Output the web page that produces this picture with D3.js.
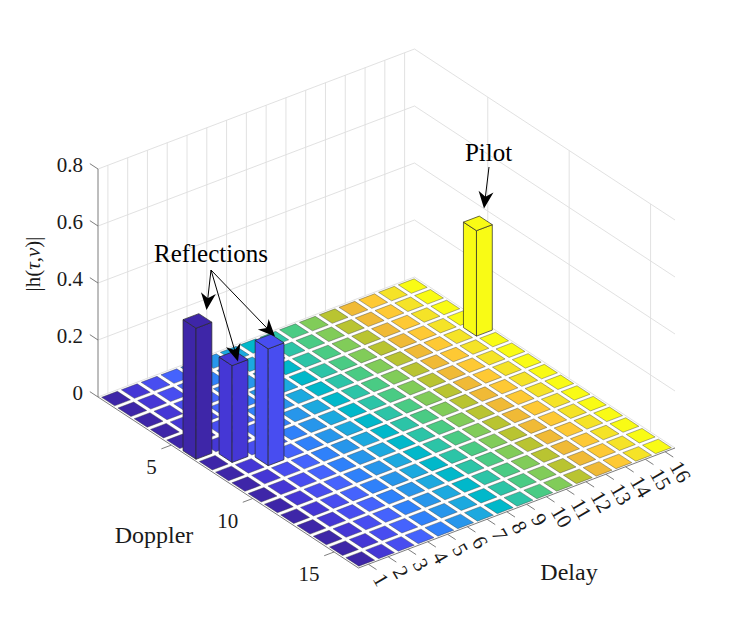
<!DOCTYPE html>
<html>
<head>
<meta charset="utf-8">
<script src="https://cdn.jsdelivr.net/npm/d3@7"></script>
<style>
body { margin: 0; background: #fff; }
svg { display: block; }
text { font-family: "Liberation Serif", "Times New Roman", serif; fill: #1a1a1a; }
</style>
</head>
<body>
<script>
// delay / doppler bins of the grid
var delays   = [1, 2, 3, 4, 5, 6, 7, 8, 9, 10, 11, 12, 13, 14, 15, 16];
var dopplers = [1, 2, 3, 4, 5, 6, 7, 8, 9, 10, 11, 12, 13, 14, 15, 16];
var delayTicks   = [1, 2, 3, 4, 5, 6, 7, 8, 9, 10, 11, 12, 13, 14, 15, 16];
var dopplerTicks = [5, 10, 15];
var zTicks       = [0, 0.2, 0.4, 0.6, 0.8];
var zTickLabels  = ["0", "0.2", "0.4", "0.6", "0.8"];

// non-zero taps of |h(tau,nu)|, every other cell is 0
var tapDelay   = [1, 2, 3, 16];
var tapDoppler = [6, 7, 8, 5];
var tapMag     = [0.46, 0.34, 0.41, 0.37];

// parula, one colour per delay column (like bar3)
var parula16 = ["#3e26a8", "#4537d5", "#484df0", "#4563fd", "#2f81fa", "#2796eb",
                "#1ca9df", "#01b8ca", "#2cc4a7", "#4acb84", "#81cc59", "#b9c431",
                "#f0ba36", "#fec934", "#f5e327", "#f9fb15"];

var W = 747, H = 641;

var svg = d3.select("body").append("svg")
    .attr("width", W)
    .attr("height", H);

// orthographic view: floor corner at (delay 0.5, doppler 0.5), two floor edge vectors, z up
var origin = [98, 397];
var exVec = [316.5, -120];
var eyVec = [260.5, 171];

var x = d3.scaleLinear().domain([0.5, 16.5]).range([0, 1]);
var y = d3.scaleLinear().domain([0.5, 16.5]).range([0, 1]);
var z = d3.scaleLinear().domain([0, 0.8]).range([0, 228]);

function P(d, p, h) {
    var a = x(d), b = y(p);
    return [origin[0] + a * exVec[0] + b * eyVec[0],
            origin[1] + a * exVec[1] + b * eyVec[1] - z(h)];
}

var line = d3.line();
function poly(pts) { return line(pts) + "Z"; }

// ---- back walls grid
var grid = svg.append("g")
    .attr("stroke", "#dedede")
    .attr("stroke-width", 0.9)
    .attr("fill", "none");

zTicks.forEach(function(t) {
    grid.append("path").attr("d", line([P(0.5, 0.5, t), P(16.5, 0.5, t), P(16.5, 16.5, t)]));
});
delayTicks.forEach(function(t) {
    grid.append("path").attr("d", line([P(t, 0.5, 0), P(t, 0.5, 0.8)]));
});
dopplerTicks.forEach(function(t) {
    grid.append("path").attr("d", line([P(16.5, t, 0), P(16.5, t, 0.8)]));
});

// ---- axes lines + ticks
var axes = svg.append("g")
    .attr("stroke", "#6e6e6e")
    .attr("stroke-width", 0.9)
    .attr("fill", "none");

axes.append("path").attr("d", line([P(0.5, 0.5, 0), P(0.5, 0.5, 0.8)]));
axes.append("path").attr("d", line([P(0.5, 0.5, 0), P(0.5, 16.5, 0), P(16.5, 16.5, 0)]));

zTicks.forEach(function(t) {
    axes.append("path").attr("d", line([P(0.5, 0.5, t), P(0.5, 0.0, t)]));
});
delayTicks.forEach(function(t) {
    axes.append("path").attr("d", line([P(t, 16.5, 0), P(t, 17.0, 0)]));
});
dopplerTicks.forEach(function(t) {
    axes.append("path").attr("d", line([P(0.5, t, 0), P(0.0, t, 0)]));
});

// ---- cells
var cells = [];
delays.forEach(function(d) {
    dopplers.forEach(function(p) {
        var v = 0;
        for (var k = 0; k < tapDelay.length; k++) {
            if (tapDelay[k] == d && tapDoppler[k] == p) v = tapMag[k];
        }
        cells.push({ d: d, p: p, v: v });
    });
});

var w = 0.4;

// flat tiles (zero height)
svg.append("g").selectAll("path")
    .data(cells.filter(function(c) { return c.v == 0; }))
    .enter()
    .append("path")
    .attr("d", function(c) {
        return poly([P(c.d - w, c.p - w, 0), P(c.d + w, c.p - w, 0),
                     P(c.d + w, c.p + w, 0), P(c.d - w, c.p + w, 0)]);
    })
    .attr("fill", function(c) { return parula16[c.d - 1]; })
    .attr("stroke", "#3a3a3a")
    .attr("stroke-width", 0.5)
    .attr("stroke-opacity", 0.8);

// bars, far ones first
var bars = cells.filter(function(c) { return c.v > 0; })
    .sort(function(a, b) { return P(a.d, a.p, 0)[1] - P(b.d, b.p, 0)[1]; });

bars.forEach(function(c) {
    var g = svg.append("g")
        .attr("fill", parula16[c.d - 1])
        .attr("stroke", "#262626")
        .attr("stroke-width", 0.7)
        .attr("stroke-linejoin", "round");
    // left side
    g.append("path").attr("d", poly([P(c.d - w, c.p - w, 0), P(c.d - w, c.p + w, 0),
                                     P(c.d - w, c.p + w, c.v), P(c.d - w, c.p - w, c.v)]));
    // front side
    g.append("path").attr("d", poly([P(c.d - w, c.p + w, 0), P(c.d + w, c.p + w, 0),
                                     P(c.d + w, c.p + w, c.v), P(c.d - w, c.p + w, c.v)]));
    // top
    g.append("path").attr("d", poly([P(c.d - w, c.p - w, c.v), P(c.d + w, c.p - w, c.v),
                                     P(c.d + w, c.p + w, c.v), P(c.d - w, c.p + w, c.v)]));
});

// ---- tick labels
svg.append("g").selectAll("text")
    .data(zTicks)
    .enter()
    .append("text")
    .attr("x", function(t) { return P(0.5, 0.5, t)[0] - 15; })
    .attr("y", function(t) { return P(0.5, 0.5, t)[1] - 4; })
    .attr("text-anchor", "end")
    .attr("dominant-baseline", "central")
    .attr("font-size", 21)
    .text(function(t, i) { return zTickLabels[i]; });

svg.append("g").selectAll("text")
    .data(dopplerTicks)
    .enter()
    .append("text")
    .attr("x", function(t) { return P(0.5, t, 0)[0] - 14.5; })
    .attr("y", function(t) { return P(0.5, t, 0)[1] + 22; })
    .attr("text-anchor", "end")
    .attr("dominant-baseline", "central")
    .attr("font-size", 21)
    .text(function(t) { return t; });

svg.append("g").selectAll("text")
    .data(delayTicks)
    .enter()
    .append("text")
    .attr("transform", function(t) {
        var q = P(t, 16.5, 0);
        return "translate(" + (q[0] + 10) + "," + (q[1] + 11) + ") rotate(60)";
    })
    .attr("dominant-baseline", "central")
    .attr("font-size", 21)
    .text(function(t) { return t; });

// ---- axis labels
svg.append("text")
    .attr("x", 154).attr("y", 543)
    .attr("text-anchor", "middle")
    .attr("font-size", 24)
    .text("Doppler");

svg.append("text")
    .attr("x", 569).attr("y", 580)
    .attr("text-anchor", "middle")
    .attr("font-size", 24)
    .text("Delay");

var zl = svg.append("text")
    .attr("transform", "translate(40,264) rotate(-90)")
    .attr("text-anchor", "middle")
    .attr("font-size", 21);
zl.append("tspan").text("|h(");
zl.append("tspan").attr("font-style", "italic").text("τ");
zl.append("tspan").text(",");
zl.append("tspan").attr("font-style", "italic").text("ν");
zl.append("tspan").text(")|");

// ---- annotations (figure positions)
var notes = [
    { label: "Reflections", at: [211, 262],
      arrows: [[211, 270, 206.5, 310], [211, 270, 238, 361.5], [211, 270, 275, 336.5]] },
    { label: "Pilot", at: [488.5, 161],
      arrows: [[489, 167, 484, 208.5]] }
];

function arrowHead(x1, y1, x2, y2) {
    var ang = Math.atan2(y2 - y1, x2 - x1);
    var hl = 17, hw = 7.5;
    var pts = [[0, 0], [-hl, -hw], [-hl * 0.7, 0], [-hl, hw]].map(function(q) {
        return [x2 + q[0] * Math.cos(ang) - q[1] * Math.sin(ang),
                y2 + q[0] * Math.sin(ang) + q[1] * Math.cos(ang)];
    });
    return poly(pts);
}

notes.forEach(function(n) {
    svg.append("text")
        .attr("x", n.at[0]).attr("y", n.at[1])
        .attr("text-anchor", "middle")
        .attr("font-size", 25)
        .style("fill", "#000")
        .text(n.label);
    n.arrows.forEach(function(a) {
        var ang = Math.atan2(a[3] - a[1], a[2] - a[0]);
        svg.append("line")
            .attr("x1", a[0]).attr("y1", a[1])
            .attr("x2", a[2] - 10 * Math.cos(ang)).attr("y2", a[3] - 10 * Math.sin(ang))
            .attr("stroke", "#000")
            .attr("stroke-width", 1);
        svg.append("path")
            .attr("d", arrowHead(a[0], a[1], a[2], a[3]))
            .attr("fill", "#000");
    });
});
</script>
</body>
</html>
